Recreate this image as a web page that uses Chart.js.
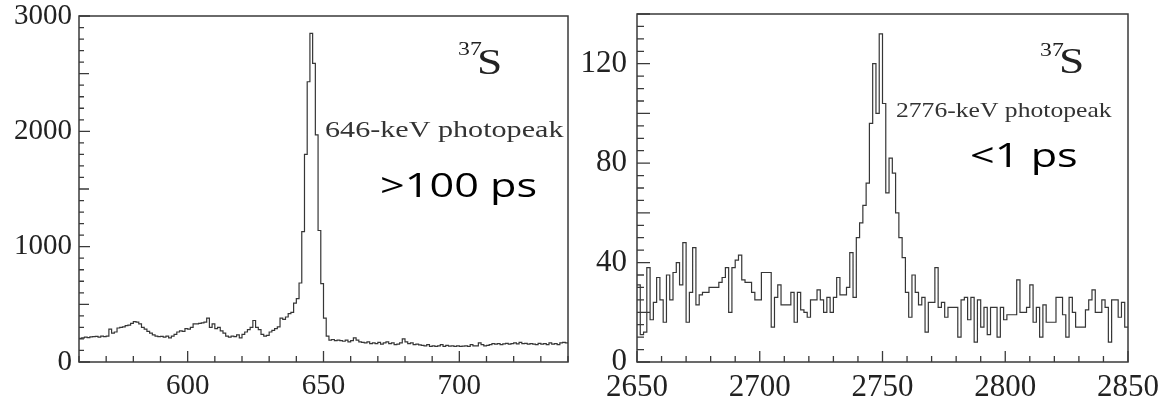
<!DOCTYPE html>
<html><head><meta charset="utf-8">
<script src="https://cdn.jsdelivr.net/npm/chart.js@4.4.1/dist/chart.umd.min.js"></script>
<style>
html,body{margin:0;padding:0;background:#fff;width:1165px;height:405px;overflow:hidden}
canvas{position:absolute;top:0}
#c1{left:0}
#c2{left:580px}
</style></head><body>
<canvas id="c1" width="580" height="405"></canvas>
<canvas id="c2" width="585" height="405"></canvas>
<script>
// ---------------- data: left panel (37S, 646-keV photopeak) ----------------
const leftBinStart = 560;
const leftBinWidth = 1;
const leftCounts = [
  205,210,215,212,218,220,222,215,225,220,
  225,285,250,260,295,300,305,315,320,335,
  350,345,330,300,285,265,250,235,225,220,
  222,215,225,210,225,240,260,270,265,290,
  285,300,330,330,335,340,345,380,300,330,
  290,300,270,250,225,215,225,220,235,210,
  240,260,280,300,360,300,280,240,225,230,
  260,275,290,305,380,370,390,420,430,510,
  550,685,1130,1800,2430,2850,2590,1970,1140,680,
  380,225,190,195,185,190,185,180,190,175,
  185,210,190,175,170,165,175,160,165,160,
  170,155,165,175,160,165,150,155,165,200,
  175,160,165,150,155,148,145,140,150,135,
  140,135,140,150,135,145,138,140,135,140,
  135,138,140,135,150,140,140,165,150,140,
  145,150,160,155,160,150,158,162,155,160,
  165,158,170,160,162,155,160,155,150,162,
  155,160,150,165,155,160,150,165,170,165
];
const leftXRange = [560, 740];
const leftYRange = [0, 3000];
const leftXLabels = [600, 650, 700];
const leftYLabels = [0, 1000, 2000, 3000];

// ---------------- data: right panel (37S, 2776-keV photopeak) ----------------
const rightBinStart = 2650;
const rightBinWidth = 4 / 3;
const rightCounts = [
  31,11,12,38,17,24,34,25,16,35,
  25,36,40,31,48,16,28,46,23,27,
  28,28,30,30,30,32,34,38,20,38,
  41,43,33,32,32,28,25,25,36,36,
  36,14,26,31,23,23,23,28,16,28,
  21,20,18,25,25,29,25,20,26,20,
  26,34,27,27,30,44,26,50,56,63,
  72,96,120,100,132,104,68,82,76,60,
  50,42,28,18,35,28,23,26,12,24,
  24,38,22,24,18,22,22,22,10,25,
  26,17,26,8,25,14,22,11,22,22,
  10,22,17,19,19,19,33,20,20,22,
  31,16,22,10,23,16,16,16,26,26,
  19,10,26,20,14,14,14,21,25,29,
  20,20,25,22,8,25,25,18,24,14
];
const rightXRange = [2650, 2850];
const rightYRange = [0, 140];
const rightXLabels = [2650, 2700, 2750, 2800, 2850];
const rightYLabels = [0, 40, 80, 120];

// ---------------- helpers ----------------
function histPoints(start, width, counts) {
  const pts = counts.map((c, i) => ({x: start + i * width, y: c}));
  pts.push({x: start + counts.length * width, y: counts[counts.length - 1]});
  return pts;
}

function frameTicksPlugin(spec) {
  return {
    id: 'frameTicks',
    afterDatasetsDraw(chart) {
      const {ctx, chartArea: a, scales: {x, y}} = chart;
      ctx.save();
      ctx.strokeStyle = '#3a3a3a';
      ctx.lineWidth = 1.3;
      ctx.beginPath();
      const nx = Math.round((spec.xMax - spec.xMin) / spec.xMinor);
      for (let k = 0; k <= nx; k++) {
        const v = spec.xMin + k * spec.xMinor;
        const px = x.getPixelForValue(v);
        const isMajor = (Math.round(v) % spec.xMajor) === 0;
        const len = isMajor ? spec.xMajorLen : spec.xMinorLen;
        ctx.moveTo(px, a.bottom);
        ctx.lineTo(px, a.bottom - len);
      }
      const ny = Math.round((spec.yMax - spec.yMin) / spec.yMinor);
      for (let k = 0; k <= ny; k++) {
        const v = spec.yMin + k * spec.yMinor;
        const py = y.getPixelForValue(v);
        let len = spec.yMinorLen;
        if (v % spec.yMajor === 0) len = spec.yMajorLen;
        else if (v % spec.yMedium === 0) len = spec.yMediumLen;
        ctx.moveTo(a.left, py);
        ctx.lineTo(a.left + len, py);
      }
      ctx.stroke();
      ctx.lineWidth = 1.5;
      ctx.strokeStyle = '#3a3a3a';
      ctx.strokeRect(a.left, a.top, a.right - a.left, a.bottom - a.top);
      ctx.restore();
    },
    afterDraw(chart) {
      const ctx = chart.ctx;
      ctx.save();
      for (const t of spec.texts) {
        ctx.font = t.font;
        ctx.fillStyle = t.color;
        ctx.textBaseline = 'alphabetic';
        ctx.textAlign = 'left';
        ctx.save();
        ctx.translate(t.x, t.y);
        ctx.scale(t.hs, 1);
        ctx.fillText(t.text, 0, 0);
        ctx.restore();
      }
      ctx.restore();
    }
  };
}

function makeChart(canvasId, cfg) {
  return new Chart(document.getElementById(canvasId), {
    type: 'line',
    data: {
      datasets: [{
        data: histPoints(cfg.binStart, cfg.binWidth, cfg.counts),
        stepped: 'before',
        borderColor: '#363636',
        borderWidth: 1.2,
        pointRadius: 0,
        fill: false,
        tension: 0
      }]
    },
    options: {
      responsive: false,
      animation: false,
      events: [],
      layout: {padding: cfg.padding},
      plugins: {legend: {display: false}, tooltip: {enabled: false}, title: {display: false}},
      scales: {
        x: {
          type: 'linear',
          min: cfg.xRange[0], max: cfg.xRange[1],
          grid: {display: false, drawTicks: false},
          border: {display: false},
          afterBuildTicks: s => { s.ticks = cfg.xLabels.map(v => ({value: v})); },
          afterFit: s => { s.height = cfg.xAxisHeight; s.paddingLeft = 0; s.paddingRight = 0; },
          ticks: {
            autoSkip: false, maxRotation: 0, padding: cfg.xPad,
            color: '#222',
            font: {family: 'Liberation Serif', size: cfg.tickFont},
            callback: v => String(v)
          }
        },
        y: {
          type: 'linear',
          min: cfg.yRange[0], max: cfg.yRange[1],
          grid: {display: false, drawTicks: false},
          border: {display: false},
          afterBuildTicks: s => { s.ticks = cfg.yLabels.map(v => ({value: v})); },
          afterFit: s => { s.width = cfg.yAxisWidth; s.paddingTop = 0; s.paddingBottom = 0; },
          ticks: {
            autoSkip: false, padding: cfg.yPad,
            color: '#222',
            font: {family: 'Liberation Serif', size: cfg.tickFont},
            callback: v => String(v)
          }
        }
      }
    },
    plugins: [frameTicksPlugin(cfg.tickSpec)]
  });
}

// left panel: chart area x 79..568, y 16..362
makeChart('c1', {
  binStart: leftBinStart, binWidth: leftBinWidth, counts: leftCounts,
  xRange: leftXRange, yRange: leftYRange, xLabels: leftXLabels, yLabels: leftYLabels,
  padding: {left: 0, right: 12, top: 16, bottom: 0},
  xAxisHeight: 43, yAxisWidth: 79, xPad: 7, yPad: 7, tickFont: 29,
  tickSpec: {
    xMin: 560, xMax: 740, xMinor: 10, xMajor: 50, xMajorLen: 11, xMinorLen: 6,
    yMin: 0, yMax: 3000, yMinor: 100, yMedium: 500, yMajor: 1000,
    yMajorLen: 11, yMediumLen: 10, yMinorLen: 5,
    texts: [
      {text: '37', x: 458, y: 55, hs: 1.25, font: '19px "Liberation Serif"', color: '#222'},
      {text: 'S', x: 477, y: 74, hs: 1.3, font: '35px "Liberation Serif"', color: '#222'},
      {text: '646-keV photopeak', x: 325, y: 137, hs: 1.31, font: '23px "Liberation Serif"', color: '#333'},
      {text: '>100 ps', x: 380, y: 197, hs: 1.31, font: '33px "Open Sans"', color: '#000'}
    ]
  }
});

// right panel: chart area x 637..1128, y 14..362 (canvas offset 580)
makeChart('c2', {
  binStart: rightBinStart, binWidth: rightBinWidth, counts: rightCounts,
  xRange: rightXRange, yRange: rightYRange, xLabels: rightXLabels, yLabels: rightYLabels,
  padding: {left: 0, right: 37, top: 14, bottom: 0},
  xAxisHeight: 43, yAxisWidth: 57, xPad: 7, yPad: 10, tickFont: 31,
  tickSpec: {
    xMin: 2650, xMax: 2850, xMinor: 10, xMajor: 50, xMajorLen: 11, xMinorLen: 6,
    yMin: 0, yMax: 140, yMinor: 5, yMedium: 20, yMajor: 40,
    yMajorLen: 13, yMediumLen: 13, yMinorLen: 7,
    texts: [
      {text: '37', x: 1040 - 580, y: 56, hs: 1.25, font: '19px "Liberation Serif"', color: '#222'},
      {text: 'S', x: 1059 - 580, y: 73, hs: 1.3, font: '35px "Liberation Serif"', color: '#222'},
      {text: '2776-keV photopeak', x: 896 - 580, y: 117, hs: 1.22, font: '21px "Liberation Serif"', color: '#333'},
      {text: '<1 ps', x: 970 - 580, y: 167, hs: 1.31, font: '33px "Open Sans"', color: '#000'}
    ]
  }
});
</script>
</body></html>
